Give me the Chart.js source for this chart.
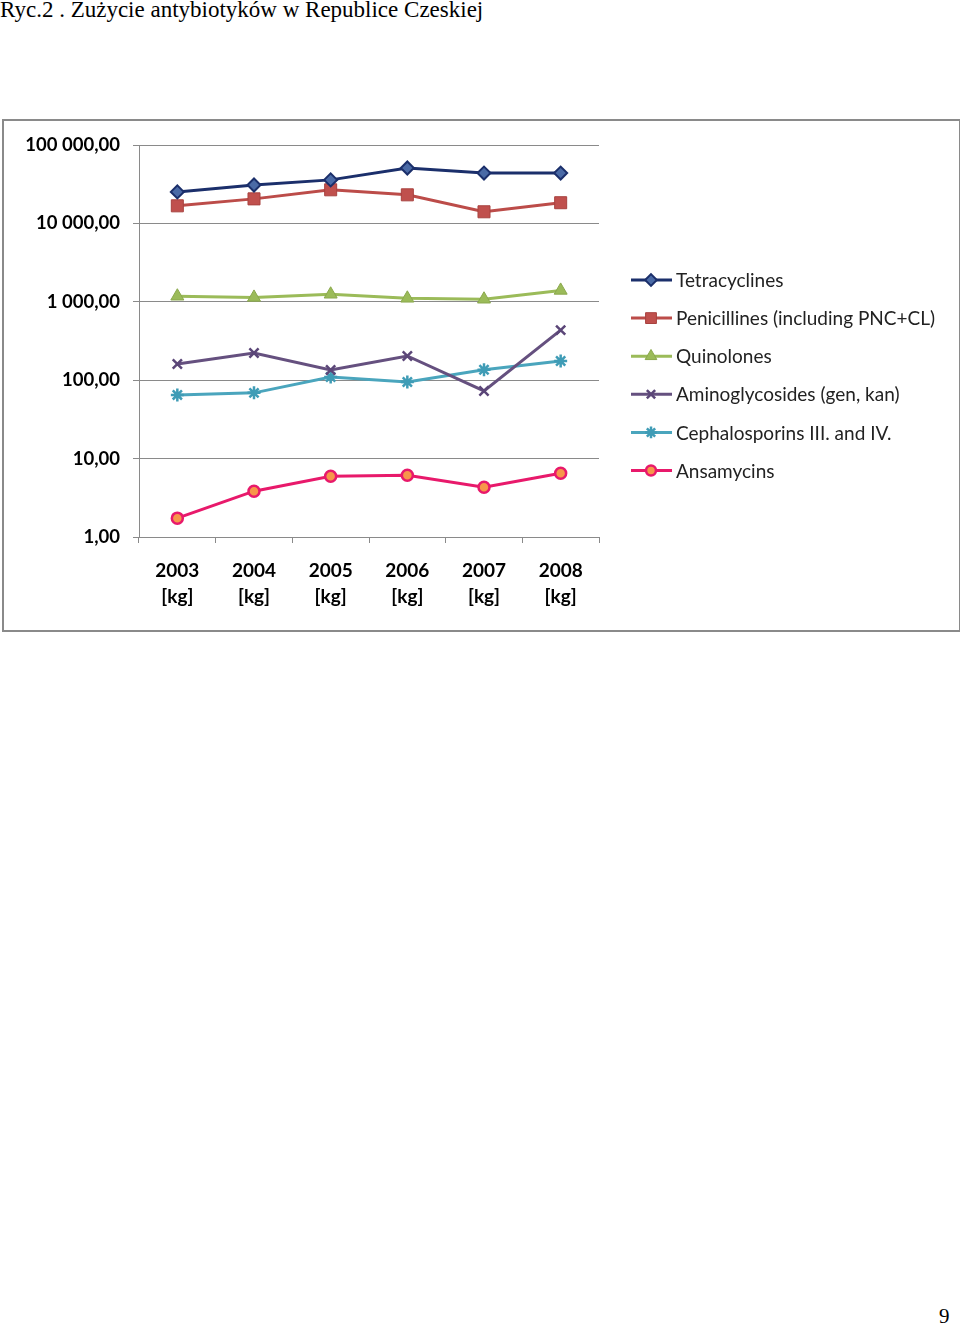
<!DOCTYPE html>
<html>
<head>
<meta charset="utf-8">
<script src="https://cdn.jsdelivr.net/npm/chart.js@4"></script>
<style>
  body { margin: 0; background: #fff; width: 960px; height: 1327px; position: relative; overflow: hidden; }
  #title { position: absolute; left: 0; top: -3px; font: 23px "Liberation Serif", "Times New Roman", serif; color: #000; white-space: nowrap; }
  #box { position: absolute; left: 2px; top: 119px; width: 955px; height: 509px; border: 2px solid #8a8a8a; background: #fff; }
  #page { position: absolute; left: 939px; top: 1304px; font: 21px "Liberation Serif", serif; color: #000; }
</style>
</head>
<body>
<div id="title">Ryc.2 . Zużycie antybiotyków w Republice Czeskiej</div>
<div id="box"><canvas id="canvas" width="955" height="509"></canvas></div>
<div id="page">9</div>
<script>
const years = ['2003', '2004', '2005', '2006', '2007', '2008']
const yTicks = [1, 10, 100, 1000, 10000, 100000]

const tetracyclines = [25300, 31000, 36000, 51000, 44000, 44000]
const penicillines = [16800, 20600, 26900, 23200, 14100, 18400]
const quinolones = [1180, 1140, 1250, 1110, 1080, 1400]
const aminoglycosides = [161, 223, 135, 204, 73, 436]
const cephalosporins = [65, 69, 110, 95, 136, 176]
const ansamycins = [1.74, 3.84, 5.95, 6.12, 4.31, 6.49]

const data = {
  labels: years,
  datasets: [
    {
      label: 'Tetracyclines',
      data: tetracyclines,
      borderColor: '#1b2f6b',
      backgroundColor: '#4a6aa6',
      pointBorderColor: '#1b2f6b',
      pointStyle: 'rectRot',
      pointRadius: 6.5,
      pointBorderWidth: 2,
    },
    {
      label: 'Penicillines (including PNC+CL)',
      data: penicillines,
      borderColor: '#bc4c49',
      backgroundColor: '#c0504d',
      pointBorderColor: '#a8423f',
      pointStyle: 'rect',
      pointRadius: 8.5,
      pointBorderWidth: 1,
    },
    {
      label: 'Quinolones',
      data: quinolones,
      borderColor: '#9bbb59',
      backgroundColor: '#9bbb59',
      pointBorderColor: '#8aa84c',
      pointStyle: 'triangle',
      pointRadius: 7.5,
      pointBorderWidth: 1,
    },
    {
      label: 'Aminoglycosides (gen, kan)',
      data: aminoglycosides,
      borderColor: '#65507f',
      backgroundColor: '#65507f',
      pointBorderColor: '#5b4678',
      pointStyle: 'crossRot',
      pointRadius: 6.5,
      pointBorderWidth: 2.5,
    },
    {
      label: 'Cephalosporins III. and IV.',
      data: cephalosporins,
      borderColor: '#4aa5bd',
      backgroundColor: '#4aa5bd',
      pointBorderColor: '#3f9cb6',
      pointStyle: 'star',
      pointRadius: 6.5,
      pointBorderWidth: 2.5,
    },
    {
      label: 'Ansamycins',
      data: ansamycins,
      borderColor: '#e8196b',
      backgroundColor: '#f7964a',
      pointBorderColor: '#e8196b',
      pointStyle: 'circle',
      pointRadius: 5.5,
      pointBorderWidth: 2.5,
    },
  ],
}

data.datasets.forEach(ds => {
  ds.borderWidth = 3
  ds.pointBackgroundColor = ds.backgroundColor
  ds.pointHoverRadius = ds.pointRadius
  ds.tension = 0
})

function fmt(v) {
  return String(Math.round(v)).replace(/\B(?=(\d{3})+(?!\d))/g, ' ') + ',00'
}

// legend drawn like the Excel one: line + marker + label
const sideLegend = {
  id: 'sideLegend',
  afterDraw(chart) {
    const ctx = chart.ctx
    chart.data.datasets.forEach((ds, i) => {
      const y = 159 + i * 38.1
      ctx.save()
      ctx.strokeStyle = ds.borderColor
      ctx.lineWidth = 3
      ctx.beginPath()
      ctx.moveTo(627, y)
      ctx.lineTo(668, y)
      ctx.stroke()
      ctx.fillStyle = ds.pointBackgroundColor
      ctx.strokeStyle = ds.pointBorderColor
      ctx.lineWidth = ds.pointBorderWidth
      Chart.helpers.drawPoint(ctx, {
        pointStyle: ds.pointStyle,
        radius: ds.pointRadius * 0.9,
        borderWidth: ds.pointBorderWidth,
        rotation: 0,
      }, 647, y)
      ctx.fillStyle = '#222'
      ctx.font = '19px Lato, "Open Sans", sans-serif'
      ctx.textBaseline = 'middle'
      ctx.textAlign = 'left'
      ctx.fillText(ds.label, 672, y + 1)
      ctx.restore()
    })
  },
}

const config = {
  type: 'line',
  data: data,
  options: {
    responsive: false,
    animation: false,
    layout: { padding: { top: 22, right: 360, left: 0, bottom: 0 } },
    plugins: {
      legend: { display: false },
      tooltip: { enabled: false },
    },
    scales: {
      x: {
        type: 'category',
        offset: true,
        grid: {
          offset: true,
          drawOnChartArea: false,
          drawTicks: true,
          tickLength: 6,
          color: '#8a8a8a',
          lineWidth: 1,
        },
        border: { display: true, color: '#8a8a8a', width: 1 },
        ticks: {
          color: '#000',
          font: { family: 'Lato, "Open Sans", sans-serif', size: 19, weight: 'bold', lineHeight: 1.35 },
          padding: 15,
          maxRotation: 0,
          callback: function (v, i) { return [years[i], '[kg]'] },
        },
        afterFit(scale) { scale.height = 509 - 416 },
      },
      y: {
        type: 'logarithmic',
        min: 1,
        max: 100000,
        afterBuildTicks(scale) { scale.ticks = yTicks.map(v => ({ value: v })) },
        grid: {
          color: '#8a8a8a',
          lineWidth: 1,
          drawTicks: true,
          tickLength: 6,
        },
        border: { display: true, color: '#8a8a8a', width: 1 },
        ticks: {
          color: '#000',
          font: { family: 'Lato, "Open Sans", sans-serif', size: 18.5, weight: 'bold' },
          padding: 13,
          callback: v => fmt(v),
        },
        afterFit(scale) { scale.width = 135 },
      },
    },
  },
  plugins: [sideLegend],
}

const canvas = document.getElementById('canvas')
const chart = new Chart(canvas, config)
</script>
</body>
</html>
